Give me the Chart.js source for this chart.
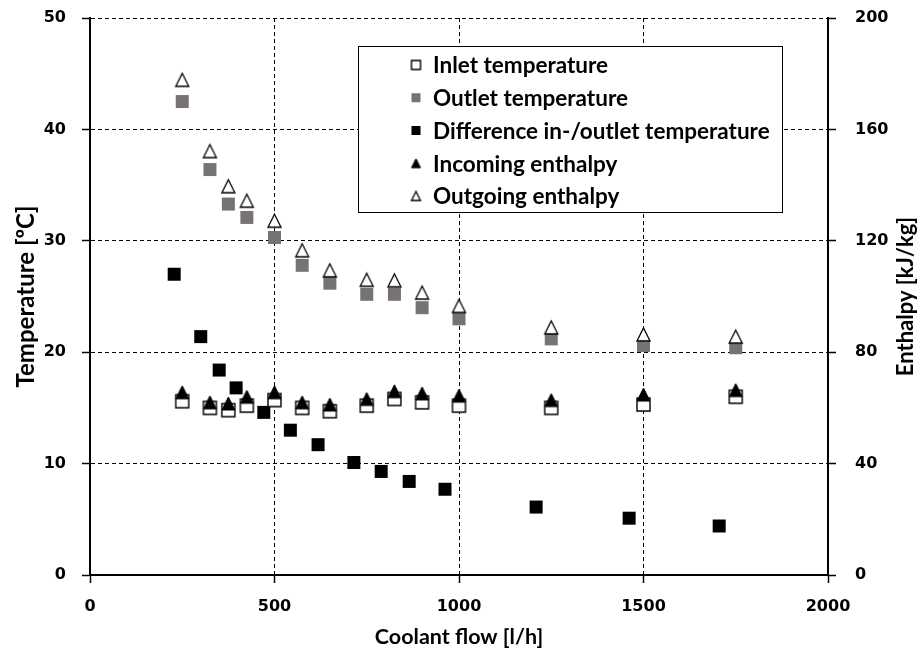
<!DOCTYPE html>
<html><head><meta charset="utf-8">
<script src="https://cdn.jsdelivr.net/npm/chart.js@4.4.0/dist/chart.umd.min.js"></script>
<style>html,body{margin:0;padding:0;background:#fff}#wrap{width:924px;height:657px;position:relative}</style>
</head><body><div id="wrap"><canvas id="c"></canvas></div>
<script>
// ---- data ----
const flow = [250, 325, 375, 425, 500, 575, 650, 750, 825, 900, 1000, 1250, 1500, 1750];
const inletTemp = [15.6, 15.0, 14.8, 15.2, 15.7, 15.0, 14.7, 15.2, 15.8, 15.5, 15.2, 15.0, 15.3, 16.0];
const outletTemp = [42.5, 36.4, 33.3, 32.1, 30.3, 27.8, 26.2, 25.2, 25.2, 24.0, 23.0, 21.2, 20.6, 20.4];
const diffFlow = [228, 300, 350, 396, 471, 543, 618, 715, 789, 865, 962, 1209, 1461, 1705];
const diffTemp = [27.0, 21.4, 18.4, 16.8, 14.6, 13.0, 11.7, 10.1, 9.3, 8.4, 7.7, 6.1, 5.1, 4.4];
const incomingEnthalpy = [65.6, 62.0, 61.6, 64.0, 65.6, 62.0, 61.2, 63.2, 66.0, 65.2, 64.4, 62.8, 64.8, 66.4];
const outgoingEnthalpy = [177.8, 152.2, 139.6, 134.4, 127.2, 116.6, 109.4, 106.0, 105.8, 101.4, 96.6, 88.9, 86.4, 85.6];
const seriesLabels = ['Inlet temperature', 'Outlet temperature', 'Difference in-/outlet temperature', 'Incoming enthalpy', 'Outgoing enthalpy'];
const xTitle = 'Coolant flow [l/h]';
const yTitle = 'Temperature [ºC]';
const y1Title = 'Enthalpy [kJ/kg]';

const GRAY = '#777373';

function marker(kind, s, fill, stroke, lw) {
  const pad = 2;
  const c = document.createElement('canvas');
  c.width = s + pad * 2; c.height = s + pad * 2;
  const g = c.getContext('2d');
  g.beginPath();
  if (kind === 'sq') {
    g.rect(pad, pad, s, s);
  } else {
    g.moveTo(pad + s / 2, pad);
    g.lineTo(pad + s, pad + s);
    g.lineTo(pad, pad + s);
    g.closePath();
  }
  g.fillStyle = fill; g.fill();
  if (stroke) { g.lineWidth = lw; g.strokeStyle = stroke; g.lineJoin = 'miter'; g.stroke(); }
  return c;
}
const mk = (s) => [
  marker('sq', s, '#fff', '#000', 1.4),
  marker('sq', s, GRAY, null, 0),
  marker('sq', s, '#000', null, 0),
  marker('tri', s, '#000', '#000', 1),
  marker('tri', s, '#fff', '#000', 1.3)
];
const mainMarkers = mk(13);
const legMarkers = mk(9);

const toXY = (xs, ys) => xs.map((x, i) => ({ x: x, y: ys[i] }));

const legendPlugin = {
  id: 'boxLegend',
  afterDraw(chart) {
    const ctx = chart.ctx;
    const x0 = 358, y0 = 46, x1 = 782, y1 = 212;
    ctx.save();
    ctx.fillStyle = '#fff';
    ctx.fillRect(x0, y0, x1 - x0, y1 - y0);
    ctx.strokeStyle = '#000'; ctx.lineWidth = 1;
    ctx.strokeRect(x0 + 0.5, y0 + 0.5, x1 - x0, y1 - y0);
    ctx.font = 'bold 22.5px Lato';
    ctx.textBaseline = 'middle';
    ctx.textAlign = 'left';
    ctx.fillStyle = '#000';
    chart.data.datasets.forEach((ds, i) => {
      const y = 65 + i * 32.75;
      const m = legMarkers[i];
      ctx.drawImage(m, 416 - m.width / 2, y - m.height / 2);
      ctx.fillText(ds.label, 433, y + 1);
    });
    // right axis title, reading bottom to top
    const a = chart.chartArea;
    ctx.font = 'bold 22px Lato';
    ctx.textAlign = 'center';
    ctx.translate(906, (a.top + a.bottom) / 2);
    ctx.rotate(-Math.PI / 2);
    ctx.fillText(y1Title, 0, 0);
    ctx.restore();
  }
};

const tickFont = { family: 'DejaVu Sans', weight: 'bold', size: 16 };
const gridCommon = { color: '#000', lineWidth: 1, tickLength: 8, tickColor: '#000', tickWidth: 1.5, tickBorderDash: [] };
const borderCommon = { color: '#000', width: 2, dash: [4, 3] };
function noPad(s) { s.paddingTop = 0; s.paddingBottom = 0; s.paddingLeft = 0; s.paddingRight = 0; }

new Chart(document.getElementById('c'), {
  type: 'scatter',
  data: {
    datasets: [
      { label: seriesLabels[0], data: toXY(flow, inletTemp), yAxisID: 'y', pointStyle: mainMarkers[0], order: 1 },
      { label: seriesLabels[1], data: toXY(flow, outletTemp), yAxisID: 'y', pointStyle: mainMarkers[1], order: 1 },
      { label: seriesLabels[2], data: toXY(diffFlow, diffTemp), yAxisID: 'y', pointStyle: mainMarkers[2], order: 1 },
      { label: seriesLabels[3], data: toXY(flow, incomingEnthalpy), yAxisID: 'y1', pointStyle: mainMarkers[3], order: 0 },
      { label: seriesLabels[4], data: toXY(flow, outgoingEnthalpy), yAxisID: 'y1', pointStyle: mainMarkers[4], order: 0 }
    ]
  },
  options: {
    responsive: true,
    maintainAspectRatio: false,
    animation: false,
    events: [],
    layout: { padding: { top: 18, left: 0, right: 0, bottom: 0 } },
    elements: { point: { radius: 7, hoverRadius: 7 } },
    plugins: { legend: { display: false }, tooltip: { enabled: false } },
    scales: {
      x: {
        type: 'linear', min: 0, max: 2000,
        ticks: { stepSize: 500, color: '#000', font: tickFont, padding: 14, maxRotation: 0, callback: (v) => String(v) },
        grid: gridCommon, border: borderCommon,
        title: { display: true, text: xTitle, color: '#000', font: { family: 'Lato', weight: 'bold', size: 21.5 }, padding: { top: 0, bottom: 7 } },
        afterFit(s) { s.height = 82; noPad(s); }
      },
      y: {
        type: 'linear', position: 'left', min: 0, max: 50,
        ticks: { stepSize: 10, color: '#000', font: tickFont, padding: 16 },
        grid: gridCommon, border: borderCommon,
        title: { display: true, text: yTitle, color: '#000', font: { family: 'Lato', weight: 'bold', size: 24 }, padding: { top: 12, bottom: 0 } },
        afterFit(s) { s.width = 90; noPad(s); }
      },
      y1: {
        type: 'linear', position: 'right', min: 0, max: 200,
        ticks: { stepSize: 40, color: '#000', font: tickFont, padding: 19 },
        grid: Object.assign({}, gridCommon, { drawOnChartArea: false }), border: borderCommon,
        title: { display: false },
        afterFit(s) { s.width = 96; noPad(s); }
      }
    }
  },
  plugins: [legendPlugin]
});
</script>
</body></html>
